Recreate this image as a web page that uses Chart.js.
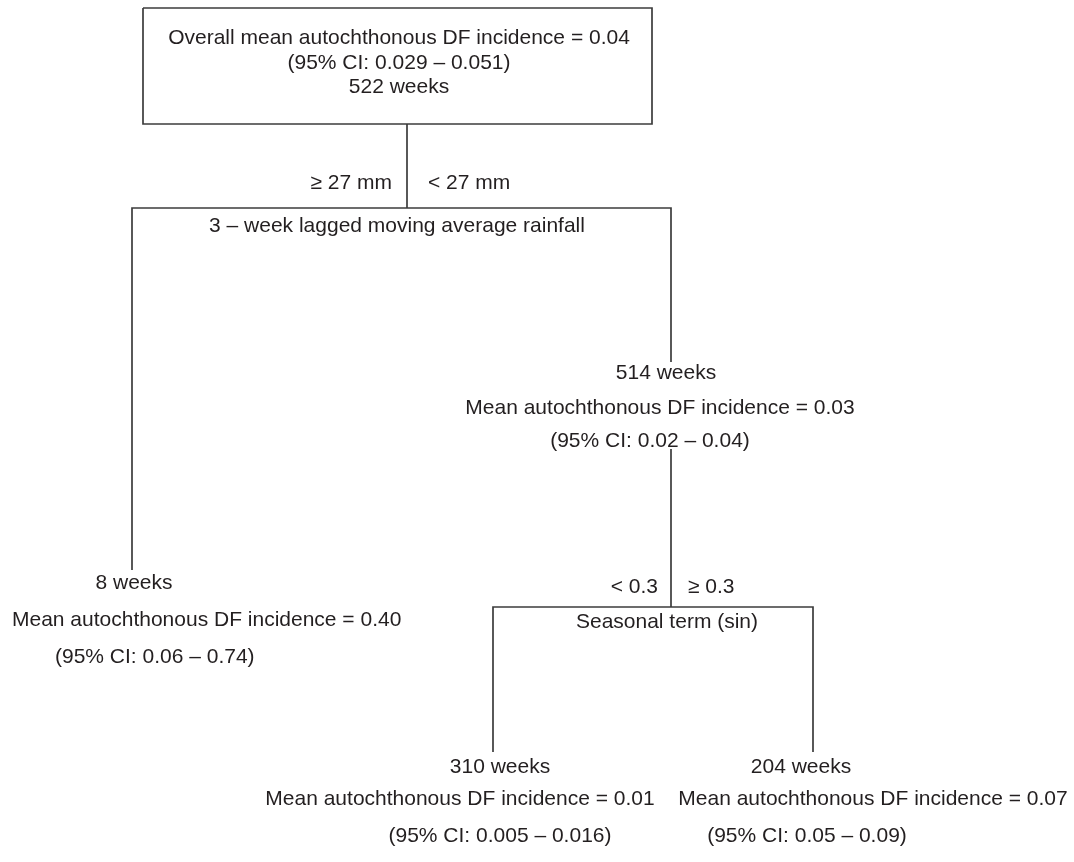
<!DOCTYPE html>
<html>
<head>
<meta charset="utf-8">
<script src="https://cdn.jsdelivr.net/npm/chart.js@4.4.1/dist/chart.umd.min.js"></script>
<style>
  html, body { margin: 0; padding: 0; background: #ffffff; }
  #wrap { position: relative; width: 1074px; height: 862px; }
</style>
</head>
<body>
<div id="wrap"><canvas id="tree"></canvas></div>
<script>
// Regression tree: weeks, mean incidence and 95% CI for each node
const nodeNames   = ['root', 'rainLow', 'rainHigh', 'sinLow', 'sinHigh'];
const nodeWeeks   = [522, 514, 8, 310, 204];
const nodeMeans   = ['0.04', '0.03', '0.40', '0.01', '0.07'];
const nodeCILow   = ['0.029', '0.02', '0.06', '0.005', '0.05'];
const nodeCIHigh  = ['0.051', '0.04', '0.74', '0.016', '0.09'];

// Split variables and the branch conditions (left branch, right branch)
const splitVariables   = ['3 \u2013 week lagged moving average rainfall', 'Seasonal term (sin)'];
const splitLeftLabels  = ['\u2265 27 mm', '< 0.3'];
const splitRightLabels = ['< 27 mm', '\u2265 0.3'];

// ---- layout of the tree (drawing units = canvas pixels, y downward) ----
const W = 1074, H = 862;

// Connector polylines
const edges = [
  [[143, 8], [652, 8], [652, 124], [143, 124], [143, 8]],     // root box
  [[407, 124], [407, 208]],                                    // root stem
  [[132, 570], [132, 208], [671, 208], [671, 362]],            // rainfall split
  [[671, 449], [671, 607]],                                    // 514-week node stem
  [[493, 752], [493, 607], [813, 607], [813, 752]]             // seasonal split
];

// Text anchors per node: [x, y, align] for weeks / mean / CI lines
const nodeTextPos = {
  root:     { mean: [399, 38, 'center'], ci: [399, 63, 'center'], weeks: [399, 87, 'center'] },
  rainLow:  { weeks: [666, 373, 'center'], mean: [660, 408, 'center'], ci: [650, 441, 'center'] },
  rainHigh: { weeks: [134, 583, 'center'], mean: [12, 620, 'left'], ci: [55, 657, 'left'] },
  sinLow:   { weeks: [500, 767, 'center'], mean: [460, 799, 'center'], ci: [500, 836, 'center'] },
  sinHigh:  { weeks: [801, 767, 'center'], mean: [873, 799, 'center'], ci: [807, 836, 'center'] }
};
const splitTextPos = [
  { variable: [397, 226], left: [392, 183], right: [428, 183] },
  { variable: [667, 622], left: [658, 587], right: [688, 587] }
];

const FONT = '21px "Liberation Sans", Arial, sans-serif';
const TEXT_COLOR = '#231f20';
const LINE_COLOR = '#3c3c3c';

function ciText(i) {
  return '(95% CI: ' + nodeCILow[i] + ' \u2013 ' + nodeCIHigh[i] + ')';
}

const datasets = edges.map(poly => ({
  data: poly.map(p => ({ x: p[0], y: p[1] })),
  showLine: true,
  borderColor: LINE_COLOR,
  borderWidth: 1.7,
  pointRadius: 0,
  pointHoverRadius: 0,
  tension: 0,
  fill: false
}));

const treeText = {
  id: 'treeText',
  afterDatasetsDraw(chart) {
    const ctx = chart.ctx;
    const xs = chart.scales.x, ys = chart.scales.y;
    const put = (txt, x, y, align) => {
      ctx.textAlign = align;
      ctx.fillText(txt, xs.getPixelForValue(x), ys.getPixelForValue(y));
    };
    ctx.save();
    ctx.font = FONT;
    ctx.fillStyle = TEXT_COLOR;
    ctx.textBaseline = 'middle';

    nodeNames.forEach((name, i) => {
      const pos = nodeTextPos[name];
      const meanLabel = (i === 0 ? 'Overall mean' : 'Mean') +
        ' autochthonous DF incidence = ' + nodeMeans[i];
      put(nodeWeeks[i] + ' weeks', pos.weeks[0], pos.weeks[1], pos.weeks[2]);
      put(meanLabel, pos.mean[0], pos.mean[1], pos.mean[2]);
      put(ciText(i), pos.ci[0], pos.ci[1], pos.ci[2]);
    });

    splitVariables.forEach((v, k) => {
      const p = splitTextPos[k];
      put(v, p.variable[0], p.variable[1], 'center');
      put(splitLeftLabels[k], p.left[0], p.left[1], 'right');
      put(splitRightLabels[k], p.right[0], p.right[1], 'left');
    });
    ctx.restore();
  }
};

new Chart(document.getElementById('tree'), {
  type: 'scatter',
  data: { datasets },
  options: {
    responsive: true,
    maintainAspectRatio: false,
    animation: false,
    events: [],
    layout: { padding: 0 },
    plugins: { legend: { display: false }, tooltip: { enabled: false } },
    scales: {
      x: { type: 'linear', min: 0, max: W, display: false },
      y: { type: 'linear', min: 0, max: H, reverse: true, display: false }
    }
  },
  plugins: [treeText]
});
</script>
</body>
</html>
